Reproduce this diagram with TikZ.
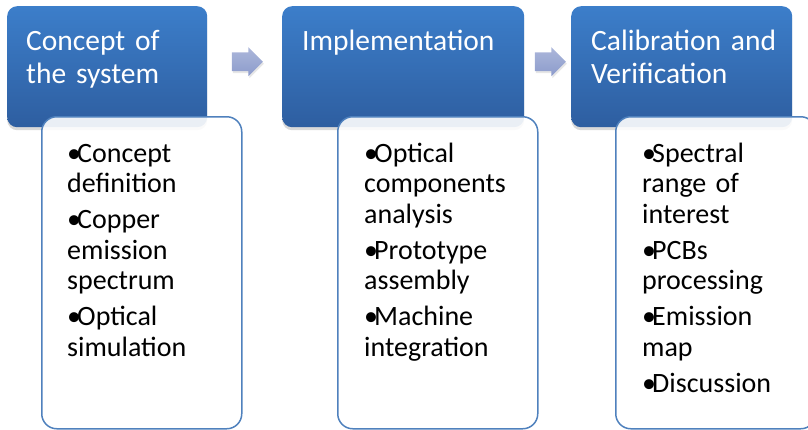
\documentclass[tikz,border=0pt]{standalone}
\usepackage{fontspec}
\setmainfont{Carlito}
\usepackage{tikz}
\usetikzlibrary{calc}
\usetikzlibrary{shapes.arrows, shadows}

\definecolor{headtop}{RGB}{60,126,202}
\definecolor{headbot}{RGB}{46,94,160}
\definecolor{bodyline}{RGB}{79,129,189}
\definecolor{arrowlight}{RGB}{172,183,218}
\definecolor{arrowdark}{RGB}{140,155,204}

\newcommand{\bitem}[1]{\hangindent=10pt\hangafter=1\noindent\makebox[10pt][l]{\textbullet}#1\par}

\tikzset{
  head/.style={rounded corners=10pt, top color=headtop, bottom color=headbot, anchor=north west, inner sep=0pt,
    drop shadow={opacity=0.3, shadow xshift=0pt, shadow yshift=-3pt}},
  headtext/.style={anchor=base west, inner sep=0pt, text=white, text width=210pt, align=left,
    font=\fontsize{29.5}{33}\selectfont},
  body/.style={rounded corners=15pt, draw=bodyline, line width=1.5pt, fill=white, fill opacity=0.9, anchor=north west, inner sep=0pt},
  bodytext/.style={anchor=base west, inner sep=0pt, text width=175pt, align=left,
    font=\fontsize{28}{30.5}\selectfont, execute at begin node={\setlength{\parskip}{5.5pt}}},
  flowarrow/.style={single arrow, single arrow head extend=5pt, single arrow head indent=0pt, inner sep=0pt,
    text height=18pt, text depth=0pt, minimum height=31pt, minimum width=29pt,
    top color=arrowlight, bottom color=arrowdark,
    drop shadow={opacity=0.2, shadow xshift=1pt, shadow yshift=-2pt}}
}

\begin{document}
\begin{tikzpicture}[x=1pt, y=-1pt]
\useasboundingbox (0,0) rectangle (808,429);

\node[head, minimum width=200pt, minimum height=121pt] (concept) at (7,6) {};
\node[head, minimum width=242pt, minimum height=121pt] (impl) at (282,6) {};
\node[head, minimum width=221pt, minimum height=121pt] (calib) at (571,6) {};

\node[headtext] (concepttitle) at ([xshift=19pt, yshift=-44pt]concept.north west) {Concept of\\the system};
\node[headtext] (impltitle) at ([xshift=20pt, yshift=-44pt]impl.north west) {Implementation};
\node[headtext] (calibtitle) at ([xshift=20pt, yshift=-44pt]calib.north west) {Calibration and\\Verification};

\node[flowarrow, xshift=-2pt, yshift=5pt] (arrowa) at ($(concept.east)!0.5!(impl.west)$) {};
\node[flowarrow, xshift=-2pt, yshift=5pt] (arrowb) at ($(impl.east)!0.5!(calib.west)$) {};

\node[body, minimum width=200pt, minimum height=312pt] (conceptbody) at (41,116) {};
\node[body, minimum width=200pt, minimum height=312pt] (implbody) at (337,116) {};
\node[body, minimum width=200pt, minimum height=312pt] (calibbody) at (615,116) {};

\node[bodytext] (conceptlist) at ([xshift=26pt, yshift=-46pt]conceptbody.north west)
  {\bitem{Concept\\definition}\bitem{Copper\\emission\\spectrum}\bitem{Optical\\simulation}};
\node[bodytext] (impllist) at ([xshift=27pt, yshift=-46pt]implbody.north west)
  {\bitem{Optical\\components\\analysis}\bitem{Prototype\\assembly}\bitem{Machine\\integration}};
\node[bodytext] (caliblist) at ([xshift=27pt, yshift=-46pt]calibbody.north west)
  {\bitem{Spectral\\range of\\interest}\bitem{PCBs\\processing}\bitem{Emission\\map}\bitem{Discussion}};
\end{tikzpicture}
\end{document}
